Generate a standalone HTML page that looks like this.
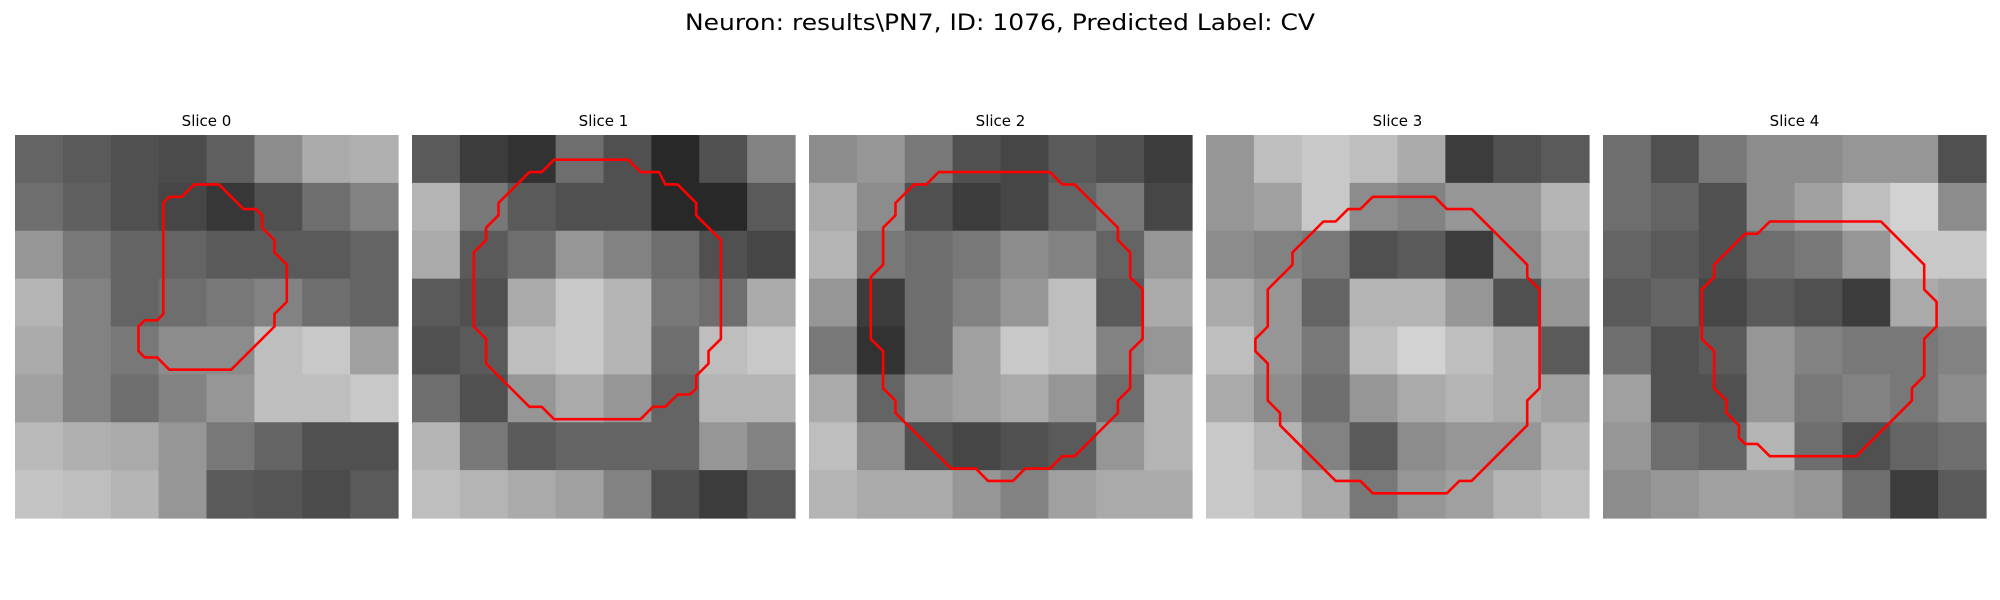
<!DOCTYPE html>
<html><head><meta charset="utf-8"><style>
html,body{margin:0;padding:0;background:#fff;}
svg{display:block;}
</style></head><body>
<svg id="fig" width="2000" height="600" viewBox="0 0 2000 600" xmlns="http://www.w3.org/2000/svg">
<rect width="2000" height="600" fill="#fff"/>
<text x="1000" y="30" text-anchor="middle" font-family="DejaVu Sans, Liberation Sans, sans-serif" font-size="22" textLength="630" lengthAdjust="spacingAndGlyphs" fill="#000">Neuron: results\PN7, ID: 1076, Predicted Label: CV</text>
<g id="panels"></g>
</svg>
<script>
const sliceTitles = ["Slice 0","Slice 1","Slice 2","Slice 3","Slice 4"];
const gray0 = [
[100,90,80,75,95,140,170,175],[110,95,80,70,55,80,110,130],[150,120,100,100,90,90,90,100],[180,130,100,110,120,130,110,100],
[170,130,120,140,140,190,200,160],[160,130,110,130,150,190,190,200],[185,175,170,150,120,100,80,80],[195,190,180,150,90,85,75,90]];
const gray1 = [
[90,60,50,110,80,40,80,130],[180,120,90,80,80,40,40,90],[170,90,110,150,130,110,80,70],[90,80,170,200,180,120,110,170],
[80,90,190,200,180,110,190,200],[110,80,150,170,150,100,180,180],[180,120,90,100,100,100,150,130],[190,180,170,160,130,80,60,90]];
const gray2 = [
[140,150,120,80,70,90,80,60],[170,140,80,60,70,100,120,70],[180,120,110,120,140,130,100,150],[150,60,110,130,150,190,90,170],
[120,50,110,160,200,190,130,150],[170,100,150,160,170,150,110,180],[190,140,80,70,80,90,150,180],[180,170,170,150,130,160,170,170]];
const gray3 = [
[150,190,200,190,170,60,80,90],[150,160,200,140,130,150,150,180],[140,130,120,80,90,60,140,170],[170,150,100,180,180,150,80,150],
[190,150,120,190,210,190,170,90],[170,140,110,150,170,180,170,160],[200,180,130,90,140,150,150,180],[200,190,170,120,150,160,180,190]];
const gray4 = [
[110,80,120,140,140,150,150,80],[110,100,80,140,160,190,210,140],[100,90,80,110,120,150,200,200],[90,100,70,90,80,60,170,160],
[110,80,90,150,130,120,120,130],[160,80,80,150,120,130,120,140],[150,110,100,180,110,80,100,110],[140,150,160,160,150,110,60,90]];
const contour0 = [[14.5,4],[16.5,4],[18.5,6],[19.5,6],[20,6.5],[20,7.5],[21,8.5],[21,9.5],[22,10.5],[22,13.5],[21,14.5],[21,15.5],[17.5,19],[12.5,19],[11.5,18],[10.5,18],[10,17.5],[10,15.5],[10.5,15],[11.5,15],[12,14.5],[12,5.5],[12.5,5],[13.5,5]];
const contour1 = [[11.5,2],[17.5,2],[18.5,3],[20,3],[20.5,4],[21.5,4],[23,5.5],[23,6.5],[25,8.5],[25,16.5],[24,17.5],[24,18.5],[23,19.5],[23,20.5],[22.5,21],[21.5,21],[20.5,22],[19.5,22],[18.5,23],[11.5,23],[10.5,22],[9.5,22],[6,18.5],[6,16.5],[5,15.5],[5,9.5],[6,8.5],[6,7.5],[7,6.5],[7,5.5],[9.5,3],[10.5,3]];
const contour2 = [[10.5,3],[19.5,3],[20.5,4],[21.5,4],[25,7.5],[25,8.5],[26,9.5],[26,11.5],[27,12.5],[27,16.5],[26,17.5],[26,20.5],[25,21.5],[25,22.5],[21.5,26],[20.5,26],[19.5,27],[17.5,27],[16.5,28],[14.5,28],[13.5,27],[11.5,27],[7,22.5],[7,21.5],[6,20.5],[6,17.5],[5,16.5],[5,11.5],[6,10.5],[6,7.5],[7,6.5],[7,5.5],[8.5,4],[9.5,4]];
const contour3 = [[13.5,5],[18.5,5],[19.5,6],[21.5,6],[26,10.5],[26,11.5],[27,12.5],[27,20.5],[26,21.5],[26,23.5],[21.5,28],[20.5,28],[19.5,29],[13.5,29],[12.5,28],[10.5,28],[6,23.5],[6,22.5],[5,21.5],[5,18.5],[4,17.5],[4,16.5],[5,15.5],[5,12.5],[7,10.5],[7,9.5],[9.5,7],[10.5,7],[11.5,6],[12.5,6]];
const contour4 = [[13.5,7],[22.5,7],[26,10.5],[26,12.5],[27,13.5],[27,15.5],[26,16.5],[26,19.5],[25,20.5],[25,21.5],[20.5,26],[13.5,26],[12.5,25],[11.5,25],[11,24.5],[11,23.5],[10,22.5],[10,21.5],[9,20.5],[9,17.5],[8,16.5],[8,12.5],[9,11.5],[9,10.5],[11.5,8],[12.5,8]];

const grays=[gray0,gray1,gray2,gray3,gray4];
const contours=[contour0,contour1,contour2,contour3,contour4];
const NS="http://www.w3.org/2000/svg";
const root=document.getElementById('panels');
const left0=15, step=397, top0=135, size=383, ncell=31;
for(let p=0;p<5;p++){
  const x0=left0+p*step;
  const g=document.createElementNS(NS,'g');
  
  
  root.appendChild(g);
  const t=document.createElementNS(NS,'text');
  
  
  t.setAttribute('x',x0+size/2);t.setAttribute('y',126);
  t.setAttribute('text-anchor','middle');
  t.setAttribute('font-family','DejaVu Sans, Liberation Sans, sans-serif');
  t.setAttribute('font-size','15');
  t.textContent=sliceTitles[p];
  g.appendChild(t);
  const G=grays[p], n=G.length, b=size/n;
  for(let r=0;r<n;r++)for(let c=0;c<n;c++){
    const v=G[r][c];
    const rc=document.createElementNS(NS,'rect');
    
    
    rc.setAttribute('x',(x0+c*b).toFixed(2));rc.setAttribute('y',(top0+r*b).toFixed(2));
    rc.setAttribute('width',(b+0.6).toFixed(2));rc.setAttribute('height',(b+0.6).toFixed(2));
    rc.setAttribute('fill','rgb('+v+','+v+','+v+')');
    g.appendChild(rc);
  }
  const s=size/ncell;
  const pts=contours[p].map(q=>(x0+q[0]*s).toFixed(1)+','+(top0+q[1]*s).toFixed(1)).join(' ');
  const pl=document.createElementNS(NS,'polygon');
  
  
  pl.setAttribute('points',pts);
  pl.setAttribute('fill','none');pl.setAttribute('stroke','#ff0000');pl.setAttribute('stroke-width','2.6');
  pl.setAttribute('stroke-linejoin','round');
  g.appendChild(pl);
}
</script>
</body></html>
